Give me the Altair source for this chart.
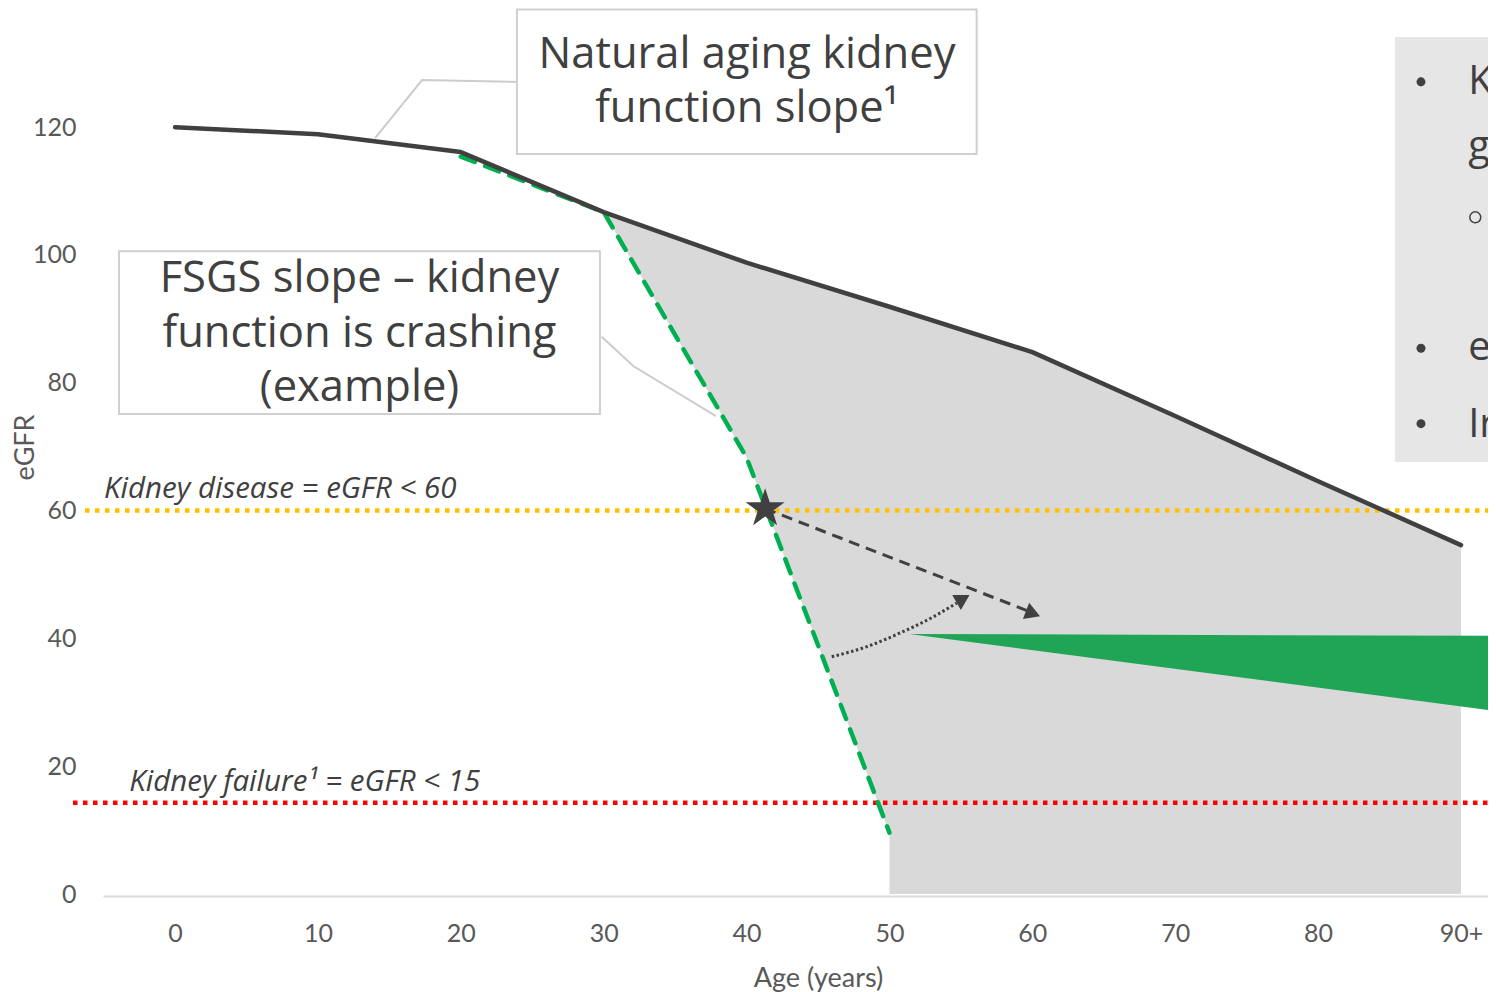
import altair as alt
import pandas as pd

# ---------------- data ----------------
ages = [0, 10, 20, 30, 40, 50, 60, 70, 80, 90]
natural_egfr = [120, 118.9, 116.1, 106.7, 98.8, 91.9, 84.8, 74.8, 64.6, 54.6]

fsgs_ages = [20, 30, 40, 50]
fsgs_egfr = [115.4, 106.7, 68.3, 9.6]

gap_ages = [30, 40, 50, 50, 60, 70, 80, 90]
gap_upper = [106.7, 98.8, 91.9, 91.9, 84.8, 74.8, 64.6, 54.6]
gap_lower = [106.7, 68.3, 9.6, 0, 0, 0, 0, 0]

X_DOMAIN = [-5.04, 91.89]
Y_DOMAIN = [-0.31, 138.65]

treated_ages = [51.4, 91.89]
treated_upper = [40.7, 40.4]
treated_lower = [40.7, 28.8]

disease_threshold = 60
failure_threshold = 14.3

x_ticks = [0, 10, 20, 30, 40, 50, 60, 70, 80, 90]
x_tick_labels = ["0", "10", "20", "30", "40", "50", "60", "70", "80", "90+"]
y_ticks = [0, 20, 40, 60, 80, 100, 120]

onset_age = [41.3]
onset_egfr = [60.3]

slowed_ages = [41.3, 59.7]
slowed_egfr = [60.3, 44.3]

shift_ages = [45.96, 48.41, 50.74, 53.05, 54.71]
shift_egfr = [37.14, 38.70, 40.85, 43.35, 45.54]

head_ages = [60.05, 55.15]
head_egfr = [43.9, 46.2]
head_angles = [21, 330]

natural_leader_ages = [24.14, 17.29, 14.0]
natural_leader_egfr = [127.07, 127.38, 118.3]
fsgs_leader_ages = [29.86, 32.07, 37.86]
fsgs_leader_egfr = [87.2, 82.63, 74.8]

box_x = [23.93, -3.92]
box_x2 = [56.1, 29.74]
box_y = [115.8, 75.1]
box_y2 = [138.4, 100.6]

box_text = ["Natural aging kidney", "function slope\u00b9",
            "FSGS slope \u2013 kidney", "function is crashing", "(example)"]
box_text_x = [40.03, 40.03, 12.91, 12.91, 12.91]
box_text_y = [129.2, 120.86, 94.2, 85.6, 77.15]

threshold_text = ["Kidney disease = eGFR < 60", "Kidney failure\u00b9 = eGFR < 15"]
threshold_text_x = [-4.97, -3.2]
threshold_text_y = [61.97, 16.17]

panel_x, panel_x2 = [85.38], [91.89]
panel_y, panel_y2 = [67.6], [134.1]
bullet_x = [87.2, 87.2, 87.2]
bullet_y = [127.1, 85.4, 73.6]
panel_text = ["K", "g", "e", "Ir"]
panel_text_x = [90.5, 90.5, 90.5, 90.5]
panel_text_y = [125.2, 115.0, 83.6, 71.5]
sub_bullet_x = [91.0]
sub_bullet_y = [105.9]

# ---------------- helpers ----------------
xscale = alt.Scale(domain=X_DOMAIN, nice=False, zero=False)
yscale = alt.Scale(domain=Y_DOMAIN, nice=False, zero=False)

label_expr = "[" + ",".join("'" + s + "'" for s in x_tick_labels) + "][indexof(" + \
    "[" + ",".join(str(v) for v in x_ticks) + "], datum.value)]"

x_axis = alt.Axis(values=x_ticks, labelExpr=label_expr, title="Age (years)",
                  grid=False, ticks=False, domainColor="#d9d9d9", domainWidth=2,
                  labelFont="Lato", labelFontSize=25, labelColor="#595959",
                  labelPadding=25,
                  titleFont="Lato", titleFontSize=27, titleFontWeight="normal",
                  titleColor="#595959", titleX=715, titleY=82,
                  titleBaseline="middle", titleAlign="center")
y_axis = alt.Axis(values=y_ticks, title="eGFR", grid=False, ticks=False, domain=False,
                  labelFont="Lato", labelFontSize=25, labelColor="#595959",
                  labelPadding=27,
                  titleFont="Lato", titleFontSize=27, titleFontWeight="normal",
                  titleColor="#595959", titleX=-78, titleY=439, titleAngle=270,
                  titleBaseline="middle", titleAlign="center")


def X(f="x"):
    return alt.X(f + ":Q", scale=xscale, axis=x_axis)


def Y(f="y"):
    return alt.Y(f + ":Q", scale=yscale, axis=y_axis)


def df(**kw):
    return pd.DataFrame(kw)


# ---------------- layers ----------------
gap = alt.Chart(df(x=gap_ages, y=gap_upper, y2=gap_lower)).mark_area(
    color="#d9d9d9", opacity=1, interpolate="linear").encode(
    x=X(), y=Y(), y2="y2:Q")

panel = alt.Chart(df(x=panel_x, x2=panel_x2, y=panel_y, y2=panel_y2)).mark_rect(
    color="#e6e6e6").encode(x=X(), x2="x2:Q", y=Y(), y2="y2:Q")

treated = alt.Chart(df(x=treated_ages, y=treated_upper, y2=treated_lower)).mark_area(
    color="#1fa555", opacity=1).encode(x=X(), y=Y(), y2="y2:Q")

yellow = alt.Chart(df(x=[-6.3], x2=[91.89], y=[disease_threshold])).mark_rule(
    color="#ffc000", strokeWidth=4.5, strokeDash=[4.5, 5.5]).encode(
    x=X(), x2="x2:Q", y=Y())

red = alt.Chart(df(x=[-7.14], x2=[91.89], y=[failure_threshold])).mark_rule(
    color="#ff0000", strokeWidth=4.5, strokeDash=[4.5, 5.5]).encode(
    x=X(), x2="x2:Q", y=Y())

fsgs = alt.Chart(df(x=fsgs_ages, y=fsgs_egfr)).mark_line(
    color="#00b050", strokeWidth=4.5, strokeDash=[15, 11], strokeCap="round").encode(
    x=X(), y=Y())

natural = alt.Chart(df(x=ages, y=natural_egfr)).mark_line(
    color="#404040", strokeWidth=4.5, strokeCap="round", strokeJoin="round").encode(
    x=X(), y=Y())

slowed = alt.Chart(df(x=slowed_ages, y=slowed_egfr)).mark_line(
    color="#404040", strokeWidth=3, strokeDash=[11, 7]).encode(x=X(), y=Y())

shift = alt.Chart(df(x=shift_ages, y=shift_egfr)).mark_line(
    color="#404040", strokeWidth=3, strokeDash=[2.5, 2.5], interpolate="monotone").encode(
    x=X(), y=Y())

heads = alt.Chart(df(x=head_ages, y=head_egfr, a=head_angles)).mark_point(
    shape="triangle-right", filled=True, color="#404040", opacity=1, size=300).encode(
    x=X(), y=Y(), angle=alt.Angle("a:Q", scale=None))

star_path = ("M0,-1L0.2245,-0.309L0.9511,-0.309L0.3633,0.118L0.5878,0.809L0,0.382"
             "L-0.5878,0.809L-0.3633,0.118L-0.9511,-0.309L-0.2245,-0.309Z")
star = alt.Chart(df(x=onset_age, y=onset_egfr)).mark_point(
    shape=star_path, filled=True, color="#404040", opacity=1, size=1680).encode(
    x=X(), y=Y())

leader1 = alt.Chart(df(x=natural_leader_ages, y=natural_leader_egfr,
                       o=list(range(len(natural_leader_ages))))).mark_line(
    color="#cccccc", strokeWidth=2).encode(x=X(), y=Y(), order="o:Q")
leader2 = alt.Chart(df(x=fsgs_leader_ages, y=fsgs_leader_egfr,
                       o=list(range(len(fsgs_leader_ages))))).mark_line(
    color="#cccccc", strokeWidth=2).encode(x=X(), y=Y(), order="o:Q")

boxes = alt.Chart(df(x=box_x, x2=box_x2, y=box_y, y2=box_y2)).mark_rect(
    fill="white", stroke="#d0d0d0", strokeWidth=2).encode(
    x=X(), x2="x2:Q", y=Y(), y2="y2:Q")

box_labels = alt.Chart(df(x=box_text_x, y=box_text_y, t=box_text)).mark_text(
    font="Open Sans", fontSize=43.5, color="#404040", align="center", baseline="alphabetic").encode(
    x=X(), y=Y(), text="t:N")

threshold_labels = alt.Chart(df(x=threshold_text_x, y=threshold_text_y, t=threshold_text)).mark_text(
    font="Open Sans", fontSize=29.5, fontStyle="italic", color="#404040", align="left",
    baseline="alphabetic").encode(x=X(), y=Y(), text="t:N")

bullets = alt.Chart(df(x=bullet_x, y=bullet_y)).mark_point(
    shape="circle", filled=True, color="#404040", opacity=1, size=80).encode(x=X(), y=Y())

sub_bullets = alt.Chart(df(x=sub_bullet_x, y=sub_bullet_y)).mark_point(
    shape="circle", filled=False, color="#404040", opacity=1, size=120, strokeWidth=1.5).encode(
    x=X(), y=Y())

panel_labels = alt.Chart(df(x=panel_text_x, y=panel_text_y, t=panel_text)).mark_text(
    font="Open Sans", fontSize=40, color="#404040", align="left", baseline="alphabetic").encode(
    x=X(), y=Y(), text="t:N")

chart = alt.layer(
    gap, panel, treated, yellow, red, fsgs, natural, slowed, shift, heads, star,
    leader1, leader2, boxes, box_labels, threshold_labels,
    bullets, sub_bullets, panel_labels
).properties(
    width=1385, height=888,
    autosize=alt.AutoSizeParams(type="none"),
    padding={"left": 95, "top": 0, "right": 0, "bottom": 96},
).configure(background="white").configure_view(stroke=None)

chart.save("out.html", embed_options={"renderer": "svg", "actions": False})
